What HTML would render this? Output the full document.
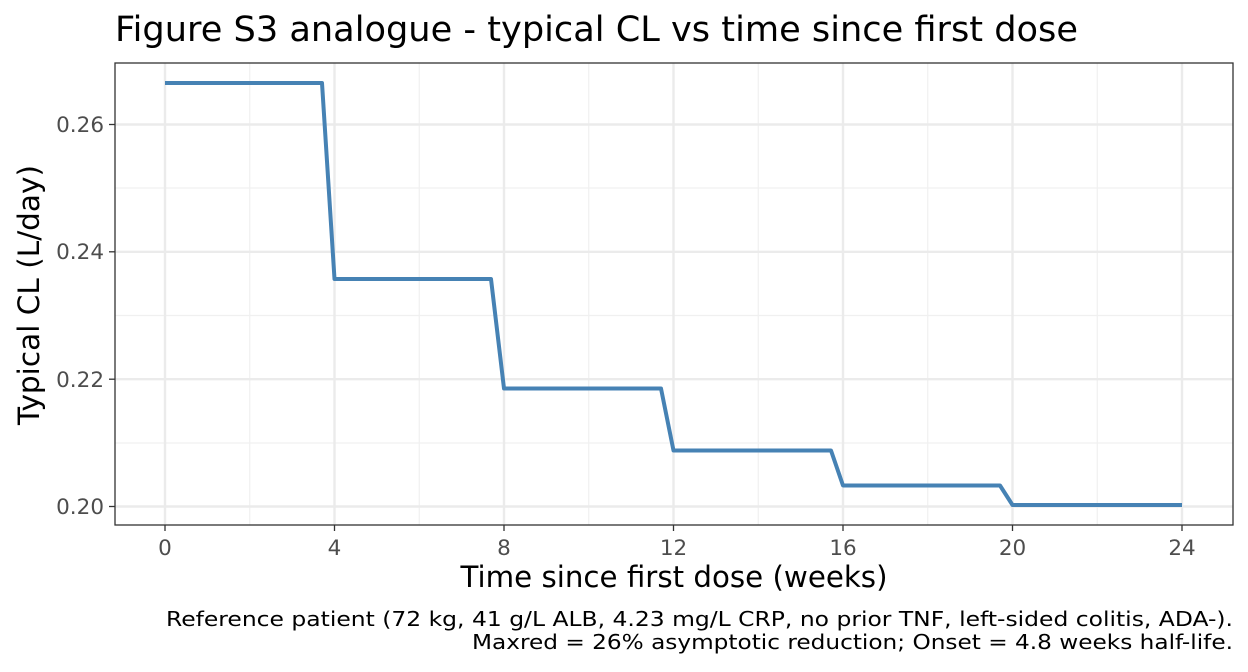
<!DOCTYPE html>
<html><head><style>body{margin:0;background:#fff}svg{display:block}</style></head><body>
<svg width="1248" height="672" xmlns="http://www.w3.org/2000/svg" font-family="DejaVu Sans, Liberation Sans, sans-serif">
<rect width="1248" height="672" fill="#fff"/>
<text x="115" y="41" font-size="35" fill="#000" textLength="963" lengthAdjust="spacingAndGlyphs">Figure S3 analogue - typical CL vs time since first dose</text>
<g stroke="#f0f0f0" stroke-width="1.2">
<line x1="249.75" y1="63" x2="249.75" y2="525"/><line x1="419.25" y1="63" x2="419.25" y2="525"/><line x1="588.75" y1="63" x2="588.75" y2="525"/><line x1="758.25" y1="63" x2="758.25" y2="525"/><line x1="927.75" y1="63" x2="927.75" y2="525"/><line x1="1097.25" y1="63" x2="1097.25" y2="525"/>
<line x1="115" y1="443" x2="1233" y2="443"/><line x1="115" y1="315.5" x2="1233" y2="315.5"/><line x1="115" y1="188" x2="1233" y2="188"/>
</g>
<g stroke="#ebebeb" stroke-width="2.4">
<line x1="165" y1="63" x2="165" y2="525"/><line x1="334.5" y1="63" x2="334.5" y2="525"/><line x1="504" y1="63" x2="504" y2="525"/><line x1="673.5" y1="63" x2="673.5" y2="525"/><line x1="843" y1="63" x2="843" y2="525"/><line x1="1012.5" y1="63" x2="1012.5" y2="525"/><line x1="1182" y1="63" x2="1182" y2="525"/>
<line x1="115" y1="506.5" x2="1233" y2="506.5"/><line x1="115" y1="379.2" x2="1233" y2="379.2"/><line x1="115" y1="251.8" x2="1233" y2="251.8"/><line x1="115" y1="124.5" x2="1233" y2="124.5"/>
</g>
<polyline fill="none" stroke="#4682b4" stroke-width="4" stroke-linejoin="round" points="165,83 322,83 334.5,279 491,279 504,388.5 661,388.5 673.5,450.5 831,450.5 843,485.5 1000,485.5 1012.5,505 1182,505"/>
<rect x="115" y="63" width="1118" height="462" fill="none" stroke="#333" stroke-width="1.3"/>
<g stroke="#333" stroke-width="1.3">
<line x1="109" y1="506.5" x2="115" y2="506.5"/><line x1="109" y1="379.2" x2="115" y2="379.2"/><line x1="109" y1="251.8" x2="115" y2="251.8"/><line x1="109" y1="124.5" x2="115" y2="124.5"/>
<line x1="165" y1="525" x2="165" y2="531"/><line x1="334.5" y1="525" x2="334.5" y2="531"/><line x1="504" y1="525" x2="504" y2="531"/><line x1="673.5" y1="525" x2="673.5" y2="531"/><line x1="843" y1="525" x2="843" y2="531"/><line x1="1012.5" y1="525" x2="1012.5" y2="531"/><line x1="1182" y1="525" x2="1182" y2="531"/>
</g>
<g font-size="21.5" fill="#4d4d4d" text-anchor="end">
<text x="104" y="514">0.20</text><text x="104" y="387">0.22</text><text x="104" y="259">0.24</text><text x="104" y="132">0.26</text>
</g>
<g font-size="21.5" fill="#4d4d4d" text-anchor="middle">
<text x="165" y="555">0</text><text x="334.5" y="555">4</text><text x="504" y="555">8</text><text x="673.5" y="555">12</text><text x="843" y="555">16</text><text x="1012.5" y="555">20</text><text x="1182" y="555">24</text>
</g>
<text x="674" y="587" font-size="29" text-anchor="middle" textLength="427" lengthAdjust="spacingAndGlyphs">Time since first dose (weeks)</text>
<text transform="translate(39,295) rotate(-90)" font-size="29" text-anchor="middle" textLength="260" lengthAdjust="spacingAndGlyphs">Typical CL (L/day)</text>
<g font-size="20.5" text-anchor="end">
<text x="1233" y="626" textLength="1067" lengthAdjust="spacingAndGlyphs">Reference patient (72 kg, 41 g/L ALB, 4.23 mg/L CRP, no prior TNF, left-sided colitis, ADA-).</text>
<text x="1233" y="649" textLength="761" lengthAdjust="spacingAndGlyphs">Maxred = 26% asymptotic reduction; Onset = 4.8 weeks half-life.</text>
</g>
</svg>
</body></html>
